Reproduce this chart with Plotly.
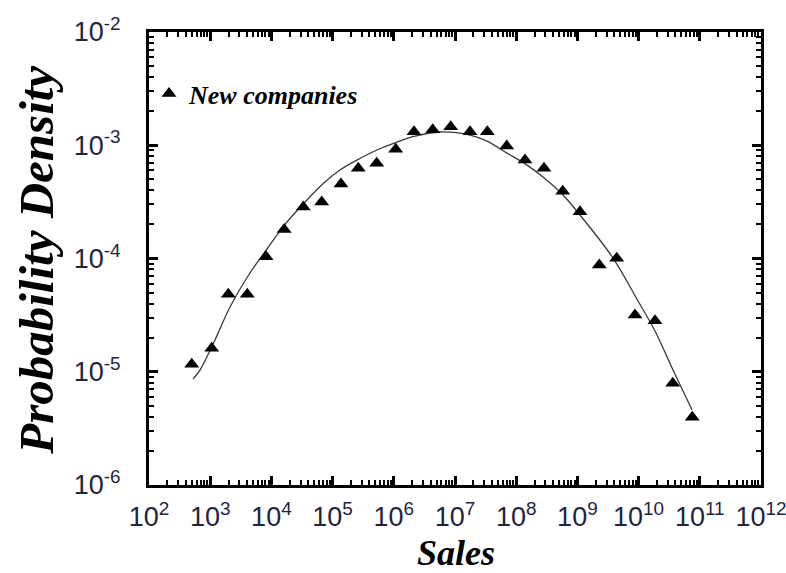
import plotly.graph_objects as go

# Data points: "New companies"
sales = [499, 1059, 1977, 4036, 8166, 16180, 33190, 66370, 1.371e5, 2.630e5,
         5.26e5, 1.074e6, 2.138e6, 4.325e6, 8.51e6, 1.758e7, 3.373e7, 7.0e7,
         1.393e8, 2.844e8, 5.754e8, 1.102e9, 2.28e9, 4.385e9, 8.73e9, 1.854e10,
         3.606e10, 7.534e10]
density = [1.164e-5, 1.611e-5, 4.83e-5, 4.83e-5, 1.038e-4, 1.803e-4, 2.851e-4,
           3.155e-4, 4.55e-4, 6.25e-4, 6.93e-4, 9.2e-4, 1.318e-3, 1.371e-3,
           1.459e-3, 1.318e-3, 1.318e-3, 9.84e-4, 7.41e-4, 6.25e-4, 3.93e-4,
           2.588e-4, 8.77e-5, 1.005e-4, 3.17e-5, 2.825e-5, 7.91e-6, 3.96e-6]

# Fitted curve
fit_sales = [524, 681, 1197, 2109, 4467, 8472, 15490, 31620, 69660, 1.321e5,
             2.506e5, 5.31e5, 1.127e6, 2.06e6, 5.69e6, 1.758e7, 3.334e7, 7.08e7,
             1.5e8, 2.742e8, 5.82e8, 1.102e9, 3.82e9, 9.42e9, 1.854e10, 3.65e10,
             7.46e10]
fit_density = [8.63e-6, 1.035e-5, 1.91e-5, 3.73e-5, 7.45e-5, 1.213e-4, 1.905e-4,
               2.95e-4, 4.57e-4, 6.04e-4, 7.40e-4, 9.08e-4, 1.067e-3, 1.189e-3,
               1.309e-3, 1.230e-3, 1.089e-3, 8.53e-4, 6.68e-4, 5.25e-4, 3.64e-4,
               2.42e-4, 1.009e-4, 4.37e-5, 2.29e-5, 1.035e-5, 4.61e-6]

x_exps = [2, 3, 4, 5, 6, 7, 8, 9, 10, 11, 12]
y_exps = [-6, -5, -4, -3, -2]
x_ticktext = ["10<sup>%d</sup>" % e for e in x_exps]
y_ticktext = ["10<sup>%d</sup>" % e for e in y_exps]

x_minor = [k * 10.0 ** e for e in x_exps[:-1] for k in range(2, 10)]
y_minor = [k * 10.0 ** e for e in y_exps[:-1] for k in range(2, 10)]

tick_font = dict(family="Liberation Sans Narrow, Arial Narrow, Liberation Sans, Arial, sans-serif",
                 size=27, color="#1f2540")
serif = "Liberation Serif, Times New Roman, serif"

fig = go.Figure()
fig.add_trace(go.Scatter(
    x=fit_sales, y=fit_density, mode="lines",
    line=dict(color="#3a3a3a", width=1.3, shape="spline"),
    showlegend=False, hoverinfo="skip"))
fig.add_trace(go.Scatter(
    x=sales, y=density, mode="markers", name="<b><i>New companies</i></b>",
    marker=dict(symbol="triangle-up", size=13, color="black")))

axis_common = dict(
    type="log", showgrid=False, zeroline=False, automargin=False,
    showline=True, linecolor="black", linewidth=3, mirror="ticks",
    ticks="inside", ticklen=9, tickwidth=2.5, tickcolor="black",
    tickfont=tick_font, ticklabeloverflow="allow",
)

eps = 1e-6
fig.update_xaxes(range=[2 - eps, 12 + eps], tickmode="array",
                 tickvals=[10.0 ** e for e in x_exps],
                 ticktext=x_ticktext, ticklabelstandoff=6,
                 minor=dict(tickmode="array", tickvals=x_minor, ticks="inside",
                            ticklen=5, tickwidth=1.8, tickcolor="black", showgrid=False),
                 **axis_common)
fig.update_yaxes(range=[-6 - eps, -2 + eps], tickmode="array",
                 tickvals=[10.0 ** e for e in y_exps],
                 ticktext=y_ticktext, ticklabelstandoff=20,
                 minor=dict(tickmode="array", tickvals=y_minor, ticks="inside",
                            ticklen=5, tickwidth=1.8, tickcolor="black", showgrid=False),
                 **axis_common)

fig.add_annotation(text="<b><i>Probability Density</i></b>", xref="paper", yref="paper",
                   x=-0.183, y=0.495, xanchor="center", yanchor="middle",
                   textangle=-90, showarrow=False,
                   font=dict(family=serif, size=49, color="black"))
fig.add_annotation(text="<b><i>Sales</i></b>", xref="paper", yref="paper",
                   x=0.5016, y=-0.150, xanchor="center", yanchor="middle",
                   showarrow=False,
                   font=dict(family=serif, size=36, color="black"))

fig.update_layout(
    width=786, height=573,
    margin=dict(l=149, r=25, t=32, b=88, autoexpand=False),
    paper_bgcolor="white", plot_bgcolor="white",
    legend=dict(x=0.0, y=0.916, xanchor="left", yanchor="top",
                bgcolor="rgba(0,0,0,0)",
                font=dict(family=serif, size=26, color="black")),
)

fig.write_html("out.html")
